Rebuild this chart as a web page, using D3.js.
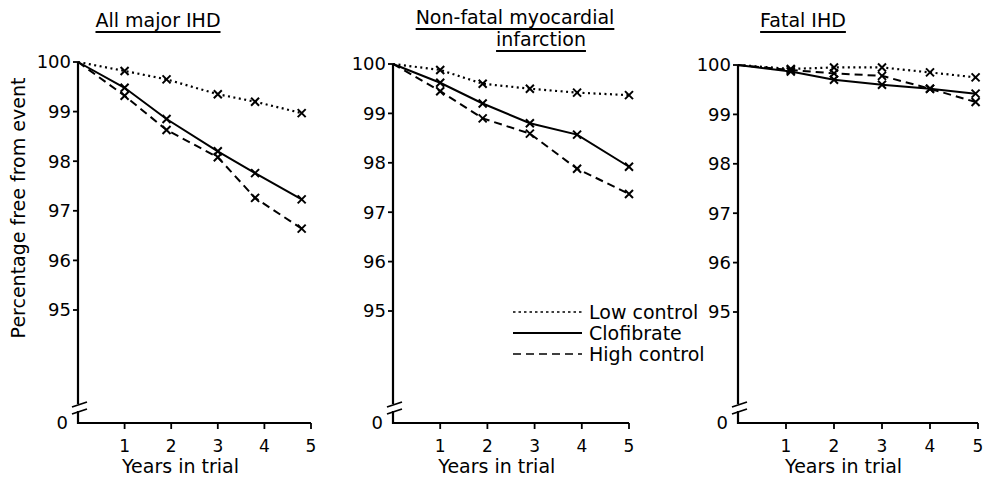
<!DOCTYPE html>
<html>
<head>
<meta charset="utf-8">
<script src="https://cdn.jsdelivr.net/npm/d3@7"></script>
<style>
	body{ margin: 0; background: #fff; }
	svg text{ font-family: "DejaVu Sans", sans-serif; fill: #000; }
</style>
</head>
<body>
<svg id="chart" width="992" height="477"></svg>
<script>
// values (percent free from event)
const seriesNames = ["Low control", "Clofibrate", "High control"];
const yTicks = [0, 95, 96, 97, 98, 99, 100];
const xTicks = [1, 2, 3, 4, 5];

const allYears = [0, 1, 1.9, 3, 3.8, 4.8];
const allLow = [100, 99.82, 99.65, 99.35, 99.2, 98.97];
const allClo = [100, 99.48, 98.85, 98.2, 97.76, 97.23];
const allHigh = [100, 99.32, 98.63, 98.08, 97.26, 96.64];

const nfYears = [0, 1, 1.9, 2.9, 3.9, 5];
const nfLow = [100, 99.88, 99.6, 99.5, 99.42, 99.37];
const nfClo = [100, 99.62, 99.2, 98.8, 98.57, 97.92];
const nfHigh = [100, 99.45, 98.9, 98.59, 97.88, 97.37];

const fatYears = [0, 1.1, 2, 3, 4, 4.95];
const fatLow = [100, 99.92, 99.95, 99.95, 99.85, 99.75];
const fatClo = [100, 99.87, 99.7, 99.6, 99.52, 99.42];
const fatHigh = [100, 99.9, 99.83, 99.78, 99.52, 99.25];

const panels = [
	{title: ["All major IHD"], years: allYears, vals: [allLow, allClo, allHigh],
	 x0: 78, x5: 311, y100: 62, y95: 310, tx: 158, ty: 27},
	{title: ["Non-fatal myocardial", "infarction"], years: nfYears, vals: [nfLow, nfClo, nfHigh],
	 x0: 393, x5: 629, y100: 64, y95: 311, tx: 515, ty: 24},
	{title: ["Fatal IHD"], years: fatYears, vals: [fatLow, fatClo, fatHigh],
	 x0: 738, x5: 978, y100: 65, y95: 312, tx: 803, ty: 27}
];
const yZero = 423, breakTop = 404, breakBot = 411;
const dashes = ["2,3.5", null, "8,5"];

const svg = d3.select("#chart");

panels.forEach((p, pi) => {
	const g = svg.append("g");
	const x = d3.scaleLinear().domain([0, 5]).range([p.x0, p.x5]);
	const y = d3.scaleLinear().domain([95, 100]).range([p.y95, p.y100]);
	const yy = v => v === 0 ? yZero : y(v);

	// title, underlined
	p.title.forEach((t, i) => {
		const cx = i === 0 ? p.tx : p.tx + 26;
		const ty = p.ty + i * 22;
		const txt = g.append("text").attr("x", cx).attr("y", ty)
			.attr("text-anchor", "middle").attr("font-size", 19).text(t);
		const w = txt.node().getComputedTextLength();
		g.append("line").attr("x1", cx - w / 2).attr("x2", cx + w / 2)
			.attr("y1", ty + 5).attr("y2", ty + 5)
			.attr("stroke", "#000").attr("stroke-width", 1.8);
	});

	// y axis with break
	g.append("path").attr("fill", "none").attr("stroke", "#000").attr("stroke-width", 2.2)
		.attr("d", `M${p.x0},${y(100)}V${breakTop} M${p.x0},${breakBot}V${yZero}H${x(5)}`);
	[breakTop, breakBot].forEach(b => {
		g.append("line").attr("x1", p.x0 - 6).attr("y1", b + 3).attr("x2", p.x0 + 9).attr("y2", b - 2)
			.attr("stroke", "#000").attr("stroke-width", 1.8);
	});
	yTicks.forEach(v => {
		if (v !== 0) g.append("line").attr("x1", p.x0 - 5).attr("x2", p.x0)
			.attr("y1", yy(v)).attr("y2", yy(v)).attr("stroke", "#000").attr("stroke-width", 1.8);
		g.append("text").attr("x", p.x0 - (v === 0 ? 10 : 7)).attr("y", yy(v)).attr("dy", "0.36em")
			.attr("text-anchor", "end").attr("font-size", 18).text(v);
	});
	xTicks.forEach(v => {
		g.append("line").attr("x1", x(v)).attr("x2", x(v)).attr("y1", yZero).attr("y2", yZero + 6)
			.attr("stroke", "#000").attr("stroke-width", 1.8);
		g.append("text").attr("x", x(v)).attr("y", yZero + 29).attr("text-anchor", "middle")
			.attr("font-size", 17).text(v);
	});
	g.append("text").attr("x", x(2.2)).attr("y", yZero + 50).attr("text-anchor", "middle")
		.attr("font-size", 19).text("Years in trial");

	// series
	const line = d3.line().x((d, i) => x(p.years[i])).y(d => y(d));
	p.vals.forEach((vals, si) => {
		g.append("path").datum(vals).attr("fill", "none").attr("stroke", "#000")
			.attr("stroke-width", si === 0 ? 2.2 : 2)
			.attr("stroke-dasharray", dashes[si]).attr("d", line);
		g.selectAll(null).data(vals.slice(1)).enter().append("path")
			.attr("d", (d, i) => {
				const cx = x(p.years[i + 1]), cy = y(d), s = 4;
				return `M${cx - s},${cy - s}L${cx + s},${cy + s}M${cx - s},${cy + s}L${cx + s},${cy - s}`;
			})
			.attr("stroke", "#000").attr("stroke-width", 2);
	});
});

// y axis label
svg.append("text").attr("transform", "translate(25,208) rotate(-90)")
	.attr("text-anchor", "middle").attr("font-size", 19).text("Percentage free from event");

// legend
const leg = svg.append("g");
seriesNames.forEach((n, i) => {
	const ly = 312 + i * 21;
	leg.append("line").attr("x1", 513).attr("x2", 582).attr("y1", ly).attr("y2", ly)
		.attr("stroke", "#000").attr("stroke-width", i === 1 ? 2.2 : 1.6)
		.attr("stroke-dasharray", i === 0 ? "2.5,3" : dashes[i]);
	leg.append("text").attr("x", 589).attr("y", ly).attr("dy", "0.36em")
		.attr("font-size", 19).text(n);
});
</script>
</body>
</html>
